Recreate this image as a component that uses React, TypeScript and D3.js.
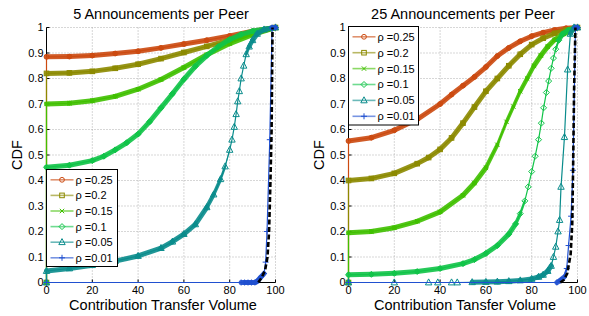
import React from 'react';
import * as d3 from 'd3';

type Pt = [number, number];

const rhoLabels = ['ρ =0.25', 'ρ =0.2', 'ρ =0.15', 'ρ =0.1', 'ρ =0.05', 'ρ =0.01'];
const seriesColors = ['#cc4a10', '#8c8a00', '#40c000', '#10c448', '#0a8c8c', '#2050d0'];
const markerShapes = ['circle', 'square', 'x', 'diamond', 'triangle', 'plus'];

const xTicks = [0, 20, 40, 60, 80, 100];
const yTicks = [0, 0.1, 0.2, 0.3, 0.4, 0.5, 0.6, 0.7, 0.8, 0.9, 1];
const yTickLabels = ['0', '0.1', '0.2', '0.3', '0.4', '0.5', '0.6', '0.7', '0.8', '0.9', '1'];

// 5 announcements per peer
const a5r025: Pt[] = [[0, 0], [0, 0.885], [10, 0.886], [20, 0.89], [30, 0.898], [40, 0.907], [50, 0.92], [60, 0.935], [70, 0.95], [80, 0.967], [90, 0.985], [100, 1]];
const a5r020: Pt[] = [[0, 0], [0, 0.82], [10, 0.822], [20, 0.828], [30, 0.84], [40, 0.856], [50, 0.878], [60, 0.902], [70, 0.926], [80, 0.951], [90, 0.977], [100, 1]];
const a5r015: Pt[] = [[0, 0], [0, 0.7], [10, 0.703], [20, 0.713], [30, 0.73], [40, 0.758], [50, 0.796], [60, 0.843], [70, 0.893], [80, 0.937], [90, 0.972], [100, 1]];
const a5r010: Pt[] = [[0, 0], [0, 0.452], [10, 0.46], [20, 0.478], [25, 0.495], [30, 0.52], [35, 0.548], [40, 0.582], [45, 0.63], [50, 0.685], [55, 0.74], [60, 0.797], [65, 0.848], [70, 0.89], [75, 0.925], [80, 0.953], [85, 0.973], [90, 0.986], [100, 1]];
const a5r005: Pt[] = [[0, 0], [0, 0.045], [10, 0.055], [20, 0.068], [30, 0.084], [40, 0.104], [50, 0.135], [55, 0.16], [60, 0.19], [65, 0.228], [70, 0.295], [73, 0.345], [76, 0.405], [78, 0.455], [80, 0.52], [81, 0.56], [82, 0.61], [82.8, 0.66], [83.5, 0.71], [84.2, 0.75], [85, 0.8], [86.1, 0.85], [87.2, 0.895], [88.5, 0.925], [90, 0.95], [92, 0.975], [95, 0.992], [100, 1]];
const a5r001: Pt[] = [[0, 0], [85, 0], [86.5, 0], [88, 0], [89.5, 0], [91, 0], [92, 0.005], [93.5, 0.02], [95, 0.035], [95.7, 0.08], [96.3, 0.2], [97.5, 0.56], [98.5, 1], [100, 1]];
const a5ref: Pt[] = [[92.5, 0], [94, 0.02], [95.5, 0.05], [96.5, 0.1], [97.2, 0.2], [97.8, 0.4], [98.3, 0.6], [98.5, 0.8], [98.7, 1]];

// 25 announcements per peer
const a25r025: Pt[] = [[0, 0], [0, 0.555], [10, 0.568], [20, 0.597], [30, 0.64], [40, 0.7], [45, 0.737], [50, 0.772], [55, 0.806], [60, 0.845], [65, 0.888], [70, 0.92], [75, 0.946], [80, 0.966], [85, 0.98], [90, 0.99], [95, 0.997], [100, 1]];
const a25r020: Pt[] = [[0, 0], [0, 0.4], [10, 0.408], [20, 0.428], [30, 0.466], [35, 0.49], [40, 0.522], [45, 0.567], [50, 0.625], [55, 0.688], [60, 0.75], [65, 0.8], [70, 0.85], [75, 0.895], [80, 0.933], [85, 0.958], [90, 0.977], [95, 0.99], [100, 1]];
const a25r015: Pt[] = [[0, 0], [0, 0.195], [10, 0.2], [20, 0.215], [30, 0.24], [40, 0.277], [50, 0.342], [55, 0.39], [60, 0.45], [65, 0.54], [69, 0.63], [72, 0.69], [75, 0.75], [78, 0.8], [81, 0.85], [84, 0.89], [87, 0.925], [90, 0.952], [94, 0.975], [100, 1]];
const a25r010: Pt[] = [[0, 0], [0, 0.03], [10, 0.032], [20, 0.036], [30, 0.043], [40, 0.055], [50, 0.074], [55, 0.09], [60, 0.114], [65, 0.145], [70, 0.19], [73, 0.23], [75, 0.27], [77, 0.32], [78.5, 0.375], [80, 0.435], [81.5, 0.495], [83, 0.56], [84.2, 0.625], [85.2, 0.685], [86.4, 0.745], [87.4, 0.79], [88.5, 0.84], [89.5, 0.88], [90.5, 0.915], [91.8, 0.95], [93.5, 0.975], [96, 0.99], [100, 1]];
const a25r005: Pt[] = [[0, 0], [20, 0], [35, 0], [39, 0], [45, 0], [47.5, 0], [54, 0.001], [60, 0.002], [65, 0.003], [70, 0.005], [75, 0.008], [80, 0.014], [83, 0.022], [85, 0.03], [87, 0.045], [88.5, 0.065], [89.5, 0.1], [90.5, 0.14], [91.5, 0.2], [92.2, 0.245], [92.8, 0.375], [94.3, 0.57], [95.7, 0.835], [96.9, 0.975], [98.5, 1], [100, 1]];
const a25r001: Pt[] = [[0, 0], [91, 0], [92.5, 0.008], [94, 0.02], [95.3, 0.055], [96.1, 0.145], [97.2, 0.26], [98, 0.44], [99.1, 1], [100, 1]];
const a25ref: Pt[] = [[92.5, 0], [94, 0.01], [95.5, 0.035], [97, 0.11], [97.7, 0.23], [98.1, 0.46], [98.5, 0.75], [99.1, 1]];

// x from which the markers of each series sit close enough to merge into a band
const denseFrom5 = [0, 0, 0, 0, 0, 85];
const denseFrom25 = [0, 0, 0, 0, 52, 91];

const FONT = '"Liberation Sans", Arial, Helvetica, sans-serif';
const yTop = 27.5;
const yBottom = 282.5;

const Marker: React.FC<{ shape: string; x: number; y: number; color: string }> = ({ shape, x, y, color }) => {
  const common = { fill: 'none', stroke: color, strokeWidth: 1 };
  if (shape === 'circle') return <circle cx={x} cy={y} r={2.4} {...common} />;
  if (shape === 'square') return <rect x={x - 2.3} y={y - 2.3} width={4.6} height={4.6} {...common} />;
  if (shape === 'diamond') return <path d={`M${x},${y - 3}L${x + 3},${y}L${x},${y + 3}L${x - 3},${y}Z`} {...common} />;
  if (shape === 'triangle') return <path d={`M${x},${y - 3.6}L${x + 3.2},${y + 2.4}L${x - 3.2},${y + 2.4}Z`} {...common} />;
  if (shape === 'x') return <path d={`M${x - 2.2},${y - 2.2}L${x + 2.2},${y + 2.2}M${x - 2.2},${y + 2.2}L${x + 2.2},${y - 2.2}`} {...common} />;
  return <path d={`M${x - 3},${y}L${x + 3},${y}M${x},${y - 3}L${x},${y + 3}`} {...common} />;
};

interface PanelProps {
  title: string;
  xLabel: string;
  x0: number;
  x1: number;
  yLabelX: number;
  series: Pt[][];
  denseFrom: number[];
  reference: Pt[];
  legendX: number;
  legendY: number;
  legendW: number;
  legendH: number;
  rowGap: number;
}

const Panel: React.FC<PanelProps> = ({ title, xLabel, x0, x1, yLabelX, series, denseFrom, reference, legendX, legendY, legendW, legendH, rowGap }) => {
  const xScale = d3.scaleLinear().domain([0, 100]).range([x0, x1]);
  const yScale = d3.scaleLinear().domain([0, 1]).range([yBottom, yTop]);
  const line = d3.line<Pt>().x(d => xScale(d[0])).y(d => yScale(d[1]));
  const cx = (x0 + x1) / 2;

  // dense markers in the original form a wide band where the curve is flat
  const bandWidth = (a: Pt, b: Pt, from: number) => {
    if (a[0] < from) return 0;
    const dx = Math.abs(xScale(b[0]) - xScale(a[0]));
    const dy = Math.abs(yScale(b[1]) - yScale(a[1]));
    const s = dy / Math.max(dx, 0.001);
    if (s <= 1.5) return 5;
    if (s >= 4) return 0;
    return 5 - (s - 1.5) * 2;
  };

  return (
    <g>
      {/* grid */}
      {xTicks.map(t => (
        <line key={'gx' + t} x1={xScale(t)} x2={xScale(t)} y1={yTop} y2={yBottom} stroke="#9a9a9a" strokeWidth={0.8} strokeDasharray="1,2" />
      ))}
      {yTicks.map(t => (
        <line key={'gy' + t} x1={x0} x2={x1} y1={yScale(t)} y2={yScale(t)} stroke="#9a9a9a" strokeWidth={0.8} strokeDasharray="1,2" />
      ))}
      {/* axes */}
      <line x1={x0} x2={x0} y1={yTop} y2={yBottom} stroke="#000" strokeWidth={1} />
      <line x1={x0} x2={x1} y1={yBottom} y2={yBottom} stroke="#000" strokeWidth={1} />
      {xTicks.map(t => (
        <line key={'tx' + t} x1={xScale(t)} x2={xScale(t)} y1={yBottom} y2={yBottom - 3} stroke="#000" />
      ))}
      {yTicks.map(t => (
        <line key={'ty' + t} x1={x0} x2={x0 + 3} y1={yScale(t)} y2={yScale(t)} stroke="#000" />
      ))}
      {xTicks.map(t => (
        <text key={'lx' + t} x={xScale(t)} y={294} fontSize={11} textAnchor="middle" fontFamily={FONT}>{t}</text>
      ))}
      {yTicks.map((t, i) => (
        <text key={'ly' + t} x={x0 - 3} y={yScale(t)} dy="0.36em" fontSize={11} textAnchor="end" fontFamily={FONT}>{yTickLabels[i]}</text>
      ))}

      {/* series */}
      {series.map((data, si) => (
        <g key={'s' + si}>
          {data.slice(1).map((p, k) => {
            const w = bandWidth(data[k], p, denseFrom[si]);
            if (w <= 0) return null;
            return (
              <line key={k} x1={xScale(data[k][0])} y1={yScale(data[k][1])} x2={xScale(p[0])} y2={yScale(p[1])}
                stroke={seriesColors[si]} strokeWidth={w} strokeLinecap="round" opacity={0.9} />
            );
          })}
          <path d={line(data) || ''} fill="none" stroke={seriesColors[si]} strokeWidth={1.2} />
          {data.map((p, k) => (
            <Marker key={k} shape={markerShapes[si]} x={xScale(p[0])} y={yScale(p[1])} color={seriesColors[si]} />
          ))}
        </g>
      ))}
      <path d={line(reference) || ''} fill="none" stroke="#000" strokeWidth={2.6} strokeDasharray="5,2.5" />

      {/* legend */}
      <rect x={legendX} y={legendY} width={legendW} height={legendH} fill="#fff" stroke="#000" strokeWidth={1} />
      {rhoLabels.map((lab, i) => {
        const ly = legendY + 10.3 + i * rowGap;
        return (
          <g key={lab}>
            <line x1={legendX + 4} x2={legendX + 27} y1={ly} y2={ly} stroke={seriesColors[i]} strokeWidth={1.6} opacity={0.6} />
            <Marker shape={markerShapes[i]} x={legendX + 15.5} y={ly} color={seriesColors[i]} />
            <text x={legendX + 29} y={ly} dy="0.36em" fontSize={11} fontFamily={FONT}>{lab}</text>
          </g>
        );
      })}

      {/* labels */}
      <text x={cx} y={18.5} fontSize={14.5} textAnchor="middle" fontFamily={FONT}>{title}</text>
      <text x={cx + 2} y={309.5} fontSize={14.5} textAnchor="middle" fontFamily={FONT}>{xLabel}</text>
      <text transform={`translate(${yLabelX},155) rotate(-90)`} fontSize={14.5} textAnchor="middle" fontFamily={FONT}>CDF</text>
    </g>
  );
};

const App: React.FC = () => {
  return (
    <svg width={589} height={316} style={{ position: 'absolute', left: 0, top: 0, background: '#fff' }}>
      <Panel
        title="5 Announcements per Peer"
        xLabel="Contribution Transfer Volume"
        x0={46.5}
        x1={275.5}
        yLabelX={22}
        series={[a5r025, a5r020, a5r015, a5r010, a5r005, a5r001]}
        denseFrom={denseFrom5}
        reference={a5ref}
        legendX={46.5}
        legendY={169.5}
        legendW={71}
        legendH={97}
        rowGap={15.6}
      />
      <Panel
        title="25 Announcements per Peer"
        xLabel="Contribution Tansfer Volume"
        x0={348.5}
        x1={577.5}
        yLabelX={323.5}
        series={[a25r025, a25r020, a25r015, a25r010, a25r005, a25r001]}
        denseFrom={denseFrom25}
        reference={a25ref}
        legendX={348.5}
        legendY={26.5}
        legendW={70}
        legendH={98.5}
        rowGap={15.9}
      />
    </svg>
  );
};

export default App;
